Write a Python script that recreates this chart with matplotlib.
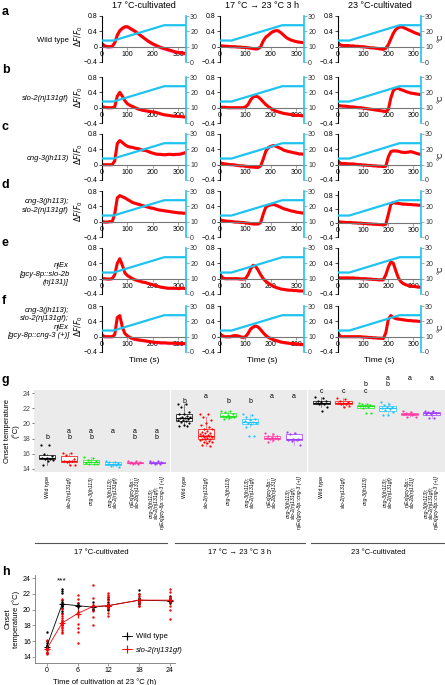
import numpy as np
import matplotlib
matplotlib.use('Agg')
import matplotlib.pyplot as plt
from matplotlib.lines import Line2D

plt.rcParams['font.family'] = ['Liberation Sans', 'DejaVu Sans']
plt.rcParams['font.size'] = 5

W, H = 445, 685

# ---------------- data: panels a-f (calcium traces) ----------------
time_s = list(range(0, 331, 10))
temp_time = [0, 45, 245, 330]
temp_degc = [14, 14, 24, 24]

col_titles = ['17 °C-cultivated', '17 °C → 23 °C 3 h', '23 °C-cultivated']
row_letters = ['a', 'b', 'c', 'd', 'e', 'f']
row_labels = ['Wild type', 'slo-2(nj131gf)', 'cng-3(jh113)',
              'cng-3(jh113);\nslo-2(nj131gf)',
              'njEx\n[gcy-8p::slo-2b\n(nj131)]',
              'cng-3(jh113);\nslo-2(nj131gf);\nnjEx\n[gcy-8p::cng-3 (+)]']

trace_a = [
    [0.08, 0.02, 0.0, 0.0, 0.01, 0.1, 0.3, 0.42, 0.48, 0.52, 0.52, 0.48, 0.44, 0.4, 0.35, 0.3, 0.25,
     0.2, 0.15, 0.11, 0.07, 0.04, 0.01, -0.02, -0.04, -0.06, -0.08, -0.1, -0.12, -0.14, -0.15, -0.16, -0.17, -0.18],
    [0.02, 0.02, 0.01, 0.01, 0.0, 0.0, 0.0, -0.01, -0.01, -0.02, -0.02, -0.03, -0.04, -0.05, -0.06, -0.05, 0.0,
     0.15, 0.25, 0.3, 0.36, 0.4, 0.42, 0.41, 0.36, 0.3, 0.24, 0.2, 0.17, 0.15, 0.13, 0.12, 0.11, 0.1],
    [0.1, 0.04, 0.03, 0.03, 0.03, 0.02, 0.02, 0.01, 0.01, 0.0, 0.0, -0.01, -0.02, -0.03, -0.03, -0.04, -0.05,
     -0.06, -0.07, -0.04, 0.05, 0.2, 0.35, 0.45, 0.5, 0.52, 0.5, 0.47, 0.44, 0.41, 0.38, 0.35, 0.33, 0.3],
]
trace_b = [
    [0.03, 0.01, 0.0, 0.0, 0.0, 0.02, 0.3, 0.4, 0.3, 0.18, 0.1, 0.06, 0.03, 0.0, -0.03, -0.05, -0.07,
     -0.08, -0.09, -0.1, -0.11, -0.12, -0.14, -0.16, -0.18, -0.19, -0.2, -0.21, -0.22, -0.22, -0.23, -0.23, -0.24, -0.24],
    [0.01, 0.01, 0.01, 0.0, 0.0, 0.0, 0.0, 0.0, 0.0, 0.0, 0.02, 0.08, 0.2, 0.28, 0.3, 0.28, 0.22,
     0.15, 0.08, 0.03, -0.02, -0.06, -0.09, -0.11, -0.13, -0.15, -0.16, -0.17, -0.18, -0.19, -0.2, -0.2, -0.21, -0.21],
    [0.05, 0.05, 0.04, 0.04, 0.03, 0.02, 0.02, 0.01, 0.0, 0.0, -0.01, -0.02, -0.03, -0.04, -0.05, -0.06, -0.07,
     -0.08, -0.09, -0.1, -0.05, 0.25, 0.45, 0.5, 0.5, 0.47, 0.45, 0.42, 0.4, 0.38, 0.37, 0.36, 0.35, 0.34],
]
trace_c = [
    [0.0, 0.0, 0.0, 0.0, 0.0, 0.1, 0.55, 0.63, 0.58, 0.52, 0.48, 0.46, 0.45, 0.43, 0.42, 0.4, 0.38,
     0.37, 0.35, 0.32, 0.3, 0.28, 0.27, 0.27, 0.26, 0.26, 0.27, 0.27, 0.26, 0.27, 0.27, 0.28, 0.3, 0.32],
    [0.05, 0.03, 0.02, 0.01, 0.0, 0.0, -0.01, -0.02, -0.03, -0.03, -0.04, -0.05, -0.06, -0.06, -0.07, -0.07, -0.03,
     0.15, 0.35, 0.45, 0.48, 0.5, 0.48, 0.45, 0.42, 0.38, 0.36, 0.34, 0.33, 0.31, 0.3, 0.28, 0.28, 0.27],
    [0.1, 0.03, 0.03, 0.03, 0.02, 0.02, 0.02, 0.01, 0.0, 0.0, -0.01, -0.01, -0.02, -0.02, -0.03, -0.03, -0.04,
     -0.04, -0.05, -0.04, 0.2, 0.34, 0.36, 0.36, 0.35, 0.33, 0.32, 0.32, 0.33, 0.34, 0.32, 0.3, 0.28, 0.27],
]
trace_d = [
    [0.0, -0.01, -0.01, 0.0, 0.0, 0.2, 0.62, 0.68, 0.65, 0.62, 0.58, 0.54, 0.5, 0.48, 0.46, 0.44, 0.42,
     0.4, 0.38, 0.36, 0.35, 0.33, 0.31, 0.3, 0.29, 0.28, 0.27, 0.26, 0.25, 0.24, 0.23, 0.23, 0.22, 0.22],
    [0.05, 0.03, 0.02, 0.01, 0.01, 0.0, -0.01, -0.01, -0.02, -0.02, -0.03, -0.04, -0.05, -0.06, -0.06, -0.06, -0.02,
     0.2, 0.38, 0.42, 0.44, 0.45, 0.43, 0.4, 0.37, 0.34, 0.32, 0.3, 0.28, 0.27, 0.25, 0.24, 0.23, 0.22],
    [0.05, 0.03, 0.03, 0.02, 0.02, 0.02, 0.01, 0.01, 0.0, 0.0, -0.01, -0.01, -0.02, -0.02, -0.03, -0.03, -0.04,
     -0.04, -0.05, -0.03, 0.25, 0.55, 0.6, 0.58, 0.57, 0.56, 0.55, 0.55, 0.54, 0.54, 0.53, 0.53, 0.52, 0.52],
]
trace_e = [
    [0.0, 0.0, -0.01, -0.01, 0.0, 0.1, 0.4, 0.52, 0.35, 0.15, 0.08, 0.04, 0.0, -0.03, -0.05, -0.07, -0.09,
     -0.1, -0.12, -0.14, -0.16, -0.18, -0.2, -0.22, -0.23, -0.24, -0.25, -0.25, -0.25, -0.25, -0.26, -0.25, -0.25, -0.26],
    [0.12, 0.02, 0.0, 0.0, 0.0, 0.0, 0.0, 0.0, -0.01, -0.01, 0.0, 0.1, 0.25, 0.35, 0.32, 0.22, 0.1,
     0.0, -0.07, -0.12, -0.16, -0.2, -0.23, -0.25, -0.27, -0.28, -0.29, -0.3, -0.3, -0.31, -0.31, -0.32, -0.32, -0.32],
    [0.02, 0.02, 0.02, 0.02, 0.02, 0.02, 0.02, 0.01, 0.01, 0.0, 0.0, 0.0, -0.01, -0.01, -0.02, -0.02, -0.03,
     -0.03, -0.03, 0.1, 0.3, 0.44, 0.4, 0.2, 0.02, -0.08, -0.13, -0.16, -0.18, -0.19, -0.2, -0.21, -0.22, -0.22],
]
trace_f = [
    [0.05, 0.0, 0.0, 0.0, 0.0, 0.05, 0.5, 0.55, 0.25, 0.08, 0.02, -0.02, -0.05, -0.07, -0.08, -0.09, -0.1,
     -0.11, -0.12, -0.13, -0.14, -0.15, -0.15, -0.16, -0.16, -0.16, -0.17, -0.17, -0.17, -0.17, -0.18, -0.18, -0.18, -0.18],
    [0.08, 0.02, 0.0, 0.0, 0.0, 0.02, 0.03, 0.02, 0.0, -0.02, 0.0, 0.08, 0.2, 0.25, 0.28, 0.25, 0.18,
     0.1, 0.03, -0.02, -0.05, -0.08, -0.1, -0.12, -0.14, -0.15, -0.16, -0.17, -0.18, -0.18, -0.19, -0.2, -0.2, -0.21],
    [0.1, 0.0, 0.0, 0.0, 0.0, 0.0, 0.0, 0.0, 0.0, 0.0, -0.01, -0.01, -0.02, -0.02, -0.03, -0.03, -0.04,
     -0.04, -0.05, 0.1, 0.45, 0.55, 0.5, 0.47, 0.46, 0.45, 0.44, 0.43, 0.42, 0.42, 0.41, 0.41, 0.4, 0.4],
]
traces = [trace_a, trace_b, trace_c, trace_d, trace_e, trace_f]
trace_sem = [[0.05, 0.03, 0.03], [0.03, 0.03, 0.03], [0.03, 0.03, 0.03],
             [0.03, 0.03, 0.03], [0.03, 0.03, 0.03], [0.04, 0.04, 0.03]]

# ---------------- data: panel g (onset temperature) ----------------
genotypes = ['Wild type', 'slo-2(nj131gf)', 'cng-3(jh113)',
             'cng-3(jh113);\nslo-2(nj131gf)', 'njEx[gcy-8p::\nslo-2b(nj131)]',
             'cng-3(jh113);\nslo-2(nj131gf);\nnjEx[gcy-8p::cng-3 (+)]']
conditions = ['17 °C-cultivated', '17 °C → 23 °C 3 h', '23 °C-cultivated']

onset_17 = [
    [17.1, 17.1, 16.0, 15.7, 15.5, 15.4, 15.3, 15.3, 15.2, 15.0, 14.5],
    [16.1, 16.1, 15.8, 15.3, 15.1, 15.0, 15.0, 14.9, 14.5, 14.5],
    [15.6, 15.5, 15.2, 15.0, 14.9, 14.8, 14.7, 14.6, 14.6],
    [15.0, 14.9, 14.9, 14.8, 14.7, 14.6, 14.5, 14.4, 14.3],
    [15.1, 15.0, 14.9, 14.9, 14.8, 14.8, 14.7, 14.7],
    [15.1, 15.0, 14.9, 14.9, 14.8, 14.8, 14.7, 14.7],
]
onset_shift = [
    [22.6, 22.5, 22.2, 21.5, 21.3, 21.2, 21.0, 20.9, 20.8, 20.7, 20.7, 20.6, 20.5, 20.4, 20.3, 20.2, 20.0,
     19.8, 19.7, 19.6],
    [21.3, 21.2, 20.9, 20.5, 20.1, 19.8, 19.5, 19.3, 19.2, 19.0, 18.9, 18.8, 18.7, 18.6, 18.5, 18.5, 18.4,
     18.4, 18.3, 18.3, 18.2, 18.2, 18.1, 18.0, 18.0, 17.9, 17.8, 17.7, 17.6, 17.5, 17.4, 17.2, 17.0],
    [21.7, 21.7, 21.5, 21.3, 21.1, 21.0, 20.9, 20.8, 20.8, 20.7, 20.6],
    [21.2, 21.1, 20.9, 20.6, 20.5, 20.3, 20.2, 20.1, 20.0, 19.9, 19.5, 18.3, 18.3],
    [18.7, 18.6, 18.4, 18.3, 18.2, 18.1, 18.1, 18.0, 17.9, 17.8, 17.6],
    [18.9, 18.7, 18.6, 18.0, 17.9, 17.8, 17.8, 17.7, 17.2],
]
onset_23 = [
    [23.5, 23.4, 23.0, 22.9, 22.8, 22.7, 22.6, 22.5, 22.2, 21.6],
    [23.3, 23.2, 23.0, 22.8, 22.7, 22.7, 22.6, 22.5, 22.3, 22.1],
    [22.7, 22.6, 22.5, 22.4, 22.3, 22.3, 22.2, 22.0, 21.4, 21.4],
    [22.8, 22.6, 22.4, 22.2, 22.1, 22.0, 21.9, 21.8, 21.5, 21.1, 21.1],
    [21.6, 21.5, 21.4, 21.3, 21.3, 21.2, 21.1, 20.9, 20.9],
    [21.7, 21.6, 21.5, 21.4, 21.3, 21.3, 20.7, 20.7],
]
onset_data = [onset_17, onset_shift, onset_23]
letters_17 = ['b', 'ab', 'ab', 'a', 'ab', 'ab']
letters_shift = ['b', 'a', 'b', 'b', 'a', 'a']
letters_23 = ['c', 'c', 'bc', 'ab', 'a', 'a']
letter_rows = [{'a': 18.9, 'b': 18.15}, {'a': 23.55, 'b': 22.85}, {'a': 25.95, 'b': 25.1, 'c': 24.25}]
geno_colors = ['#000000', '#ff0000', '#1ee61e', '#1ec3ff', '#ff3ca5', '#a03cff']

# ---------------- data: panel h ----------------
hours = [0, 3, 6, 9, 12, 18, 24]
wt_mean = [15.3, 20.7, 20.5, 20.3, 20.5, 21.2, 21.1]
wt_sem = [0.2, 0.2, 0.15, 0.2, 0.2, 0.2, 0.2]
slo2_mean = [15.0, 18.3, 19.5, 20.4, 20.5, 21.2, 21.2]
slo2_sem = [0.2, 0.2, 0.6, 0.5, 0.3, 0.2, 0.4]
wt_points = [
    [17.1, 16.0, 15.8, 15.5, 15.4, 15.3, 15.2, 15.0, 14.5],
    [22.6, 22.4, 22.1, 21.2, 21.0, 20.9, 20.7, 20.6, 20.5, 20.4, 20.2, 19.8, 19.6],
    [20.8, 20.6, 20.5, 20.4],
    [21.0, 20.5, 20.3, 20.1, 19.9],
    [21.6, 21.3, 21.0, 20.7, 20.5, 20.3, 20.1, 19.9],
    [22.5, 22.0, 21.5, 21.3, 21.1, 20.9, 20.7],
    [21.7, 21.5, 21.2, 21.0, 20.8],
]
slo2_points = [
    [16.1, 16.0, 15.3, 15.1, 15.0, 14.9, 14.6, 14.5, 14.3],
    [21.3, 20.9, 20.1, 19.5, 19.2, 18.9, 18.7, 18.5, 18.4, 18.3, 18.2, 18.1, 18.0, 17.8, 17.6, 17.4, 17.2, 17.0],
    [21.8, 21.4, 20.8, 20.3, 19.7, 19.4, 18.2, 17.7, 17.1, 15.8],
    [23.1, 21.5, 20.6, 20.4, 20.3, 19.8, 19.0, 18.1],
    [22.1, 21.9, 21.6, 21.2, 20.7, 20.2, 19.6, 19.2],
    [22.0, 21.7, 21.4, 21.2, 21.0, 20.8, 20.5, 20.4],
    [22.6, 22.3, 21.6, 21.3, 21.0, 20.5, 19.9, 18.8],
]


def ax_px(x0, y0, x1, y1):
    # axes from pixel box (top-left origin)
    return fig.add_axes([x0 / W, 1 - y1 / H, (x1 - x0) / W, (y1 - y0) / H])


def ftext(x, y, s, **kw):
    fig.text(x / W, 1 - y / H, s, **kw)


fig = plt.figure(figsize=(W / 100, H / 100), dpi=100)

temp_blue = '#1ec3f0'
cols_px = [(102, 186), (220, 304), (338, 421)]
row_top = [16, 77, 134, 191, 248, 306]
row_label_y = [40, 99, 158, 206, 274, 323]
letter_y = [12, 70, 127, 185, 243, 301]

for c, title in enumerate(col_titles):
    ftext((cols_px[c][0] + cols_px[c][1]) / 2, 5, title, ha='center', va='center', fontsize=6.5)

for r in range(6):
    ftext(2, letter_y[r], row_letters[r], fontsize=9, fontweight='bold', va='center')
    ftext(69, row_label_y[r], row_labels[r], ha='right', va='center', fontsize=5.5,
          style='normal' if r == 0 else 'italic', linespacing=1.3)
    for c in range(3):
        ax = ax_px(cols_px[c][0], row_top[r], cols_px[c][1], row_top[r] + 46)
        y = np.array(traces[r][c])
        s = trace_sem[r][c]
        ax.fill_between(time_s, y - s, y + s, color='#f2a8f2', lw=0, zorder=1)
        ax.plot(time_s, y, color='#ff0000', lw=2.2, zorder=2, solid_capstyle='butt')
        ax.set_xlim(0, 330)
        if r == 3 and c == 2:
            ax.set_ylim(-0.4, 0.93)
        else:
            ax.set_ylim(-0.4, 0.8)
        ax.set_yticks([-0.4, 0, 0.4, 0.8])
        ax.set_yticklabels(['−0.4', '0.0' if (r == 4 and c == 0) else '0', '0.4', '0.8'])
        ax.set_xticks([0, 100, 200, 300])
        ax.spines['bottom'].set_position(('data', 0))
        ax.spines['bottom'].set_color('#777777')
        ax.spines['top'].set_visible(False)
        ax.spines['right'].set_visible(False)
        ax.spines['left'].set_linewidth(0.8)
        ax.tick_params(axis='both', labelsize=5, length=2, width=0.5, pad=1)
        ax.tick_params(axis='x', colors='#777777', labelcolor='black')
        ax.patch.set_alpha(0)
        ax2 = ax.twinx()
        ax2.plot(temp_time, temp_degc, color=temp_blue, lw=1.6)
        ax2.set_ylim(0, 30)
        ax2.set_yticks([0, 10, 20, 30])
        ax2.tick_params(labelsize=5, length=2, width=0.5, pad=1, colors='#888888', labelcolor='#333333')
        for side in ['top', 'left', 'bottom']:
            ax2.spines[side].set_visible(False)
        ax2.spines['right'].set_color(temp_blue)
        ax2.spines['right'].set_linewidth(1.2)
        if c == 0 and r != 4:
            ftext(79, row_top[r] + 20, '$\\Delta F/F_0$', rotation=90, ha='center', va='center', fontsize=5.5)
        if c == 2 and r != 3:
            ftext(441, row_top[r] + 22, '°C', rotation=90, ha='center', va='center', fontsize=5.5)
        if r == 5:
            ftext((cols_px[c][0] + cols_px[c][1]) / 2, 360, 'Time (s)', ha='center', va='center', fontsize=6)

# ---------------- panel g ----------------
ftext(2, 380, 'g', fontsize=9, fontweight='bold', va='center')
facet_px = [(34, 170), (171, 307), (308, 445)]
letters_all = [letters_17, letters_shift, letters_23]
line_px = [(35, 167), (175, 305), (311, 445)]
for k in range(3):
    ax = ax_px(facet_px[k][0], 390, facet_px[k][1], 472)
    ax.set_facecolor('#ebebeb')
    for sp in ax.spines.values():
        sp.set_visible(False)
    for i, vals in enumerate(onset_data[k]):
        col = geno_colors[i]
        ax.boxplot(vals, positions=[i], widths=0.75, patch_artist=True, showfliers=False,
                   manage_ticks=False,
                   boxprops=dict(facecolor='white', edgecolor=col, lw=0.6, alpha=0.85),
                   medianprops=dict(color=col, lw=0.8),
                   whiskerprops=dict(color=col, lw=0.5, alpha=0.6),
                   capprops=dict(lw=0))
        n = len(vals)
        jit = ((np.arange(n) * 0.618) % 1 - 0.5) * 0.6
        ax.scatter(i + jit, vals, s=2.5, color=col, lw=0, zorder=3)
        ax.text(i, -0.05, genotypes[i], transform=ax.get_xaxis_transform(), rotation=90,
                ha='center', va='top', fontsize=3.8, style='normal' if i == 0 else 'italic',
                linespacing=1.05)
    ax.set_xlim(-0.6, 5.6)
    ax.set_ylim(13.6, 24.4)
    ax.set_xticks([])
    if k == 0:
        ax.set_yticks(range(14, 25, 2))
        ax.tick_params(axis='y', labelsize=5, length=1.5, width=0.5, pad=1, colors='#444444')
        ax.set_ylabel('Onset temperature\n(°C)', fontsize=5.5, labelpad=2, linespacing=1.2)
    else:
        ax.set_yticks([])
    for i, lab in enumerate(letters_all[k]):
        for ch in lab:
            ax.text(i, letter_rows[k][ch], ch, ha='center', va='center', fontsize=5, clip_on=False)
    fig.add_artist(Line2D([line_px[k][0] / W, line_px[k][1] / W], [1 - 543 / H, 1 - 543 / H],
                          color='#555555', lw=0.8))
    ftext((line_px[k][0] + line_px[k][1]) / 2, 552, conditions[k], ha='center', va='center', fontsize=5.5)

# ---------------- panel h ----------------
ftext(2, 572, 'h', fontsize=9, fontweight='bold', va='center')
axh = ax_px(35, 575, 175, 663)
for j, hr in enumerate(hours):
    axh.scatter([hr] * len(wt_points[j]), wt_points[j], s=3, color='black', lw=0, zorder=3)
    axh.scatter([hr] * len(slo2_points[j]), slo2_points[j], s=3, color='#ff0000', lw=0, zorder=3)
axh.errorbar(hours, wt_mean, yerr=wt_sem, color='black', lw=0.6, marker='+', ms=4, mew=0.8,
             elinewidth=0.8, capsize=0, zorder=4, label='Wild type')
axh.errorbar(hours, slo2_mean, yerr=slo2_sem, color='#ff0000', lw=0.6, marker='+', ms=4, mew=0.8,
             elinewidth=0.8, capsize=0, zorder=4, label='slo-2(nj131gf)')
axh.set_xlim(-2.3, 25)
axh.set_ylim(13.2, 24.4)
axh.set_xticks([0, 6, 12, 18, 24])
axh.set_yticks(range(14, 25, 2))
axh.spines['top'].set_visible(False)
axh.spines['right'].set_visible(False)
for side in ['left', 'bottom']:
    axh.spines[side].set_color('#777777')
    axh.spines[side].set_linewidth(0.6)
axh.tick_params(labelsize=5, length=2, width=0.5, pad=1, colors='#777777', labelcolor='black')
axh.text(3, 23.6, '***', ha='center', va='center', fontsize=6)
axh.set_xlabel('Time of cultivation at 23 °C (h)', fontsize=5.5, labelpad=3)
axh.set_ylabel('Onset\ntemperature (°C)', fontsize=5.5, labelpad=2, linespacing=1.2)
leg = axh.legend(loc='upper left', bbox_to_anchor=(0.62, 0.34), frameon=False, fontsize=5.5,
                 handlelength=1.4, handletextpad=0.4, borderpad=0, borderaxespad=0, labelspacing=0.75)
leg.get_texts()[1].set_style('italic')

fig.savefig('out.png', dpi=100)
